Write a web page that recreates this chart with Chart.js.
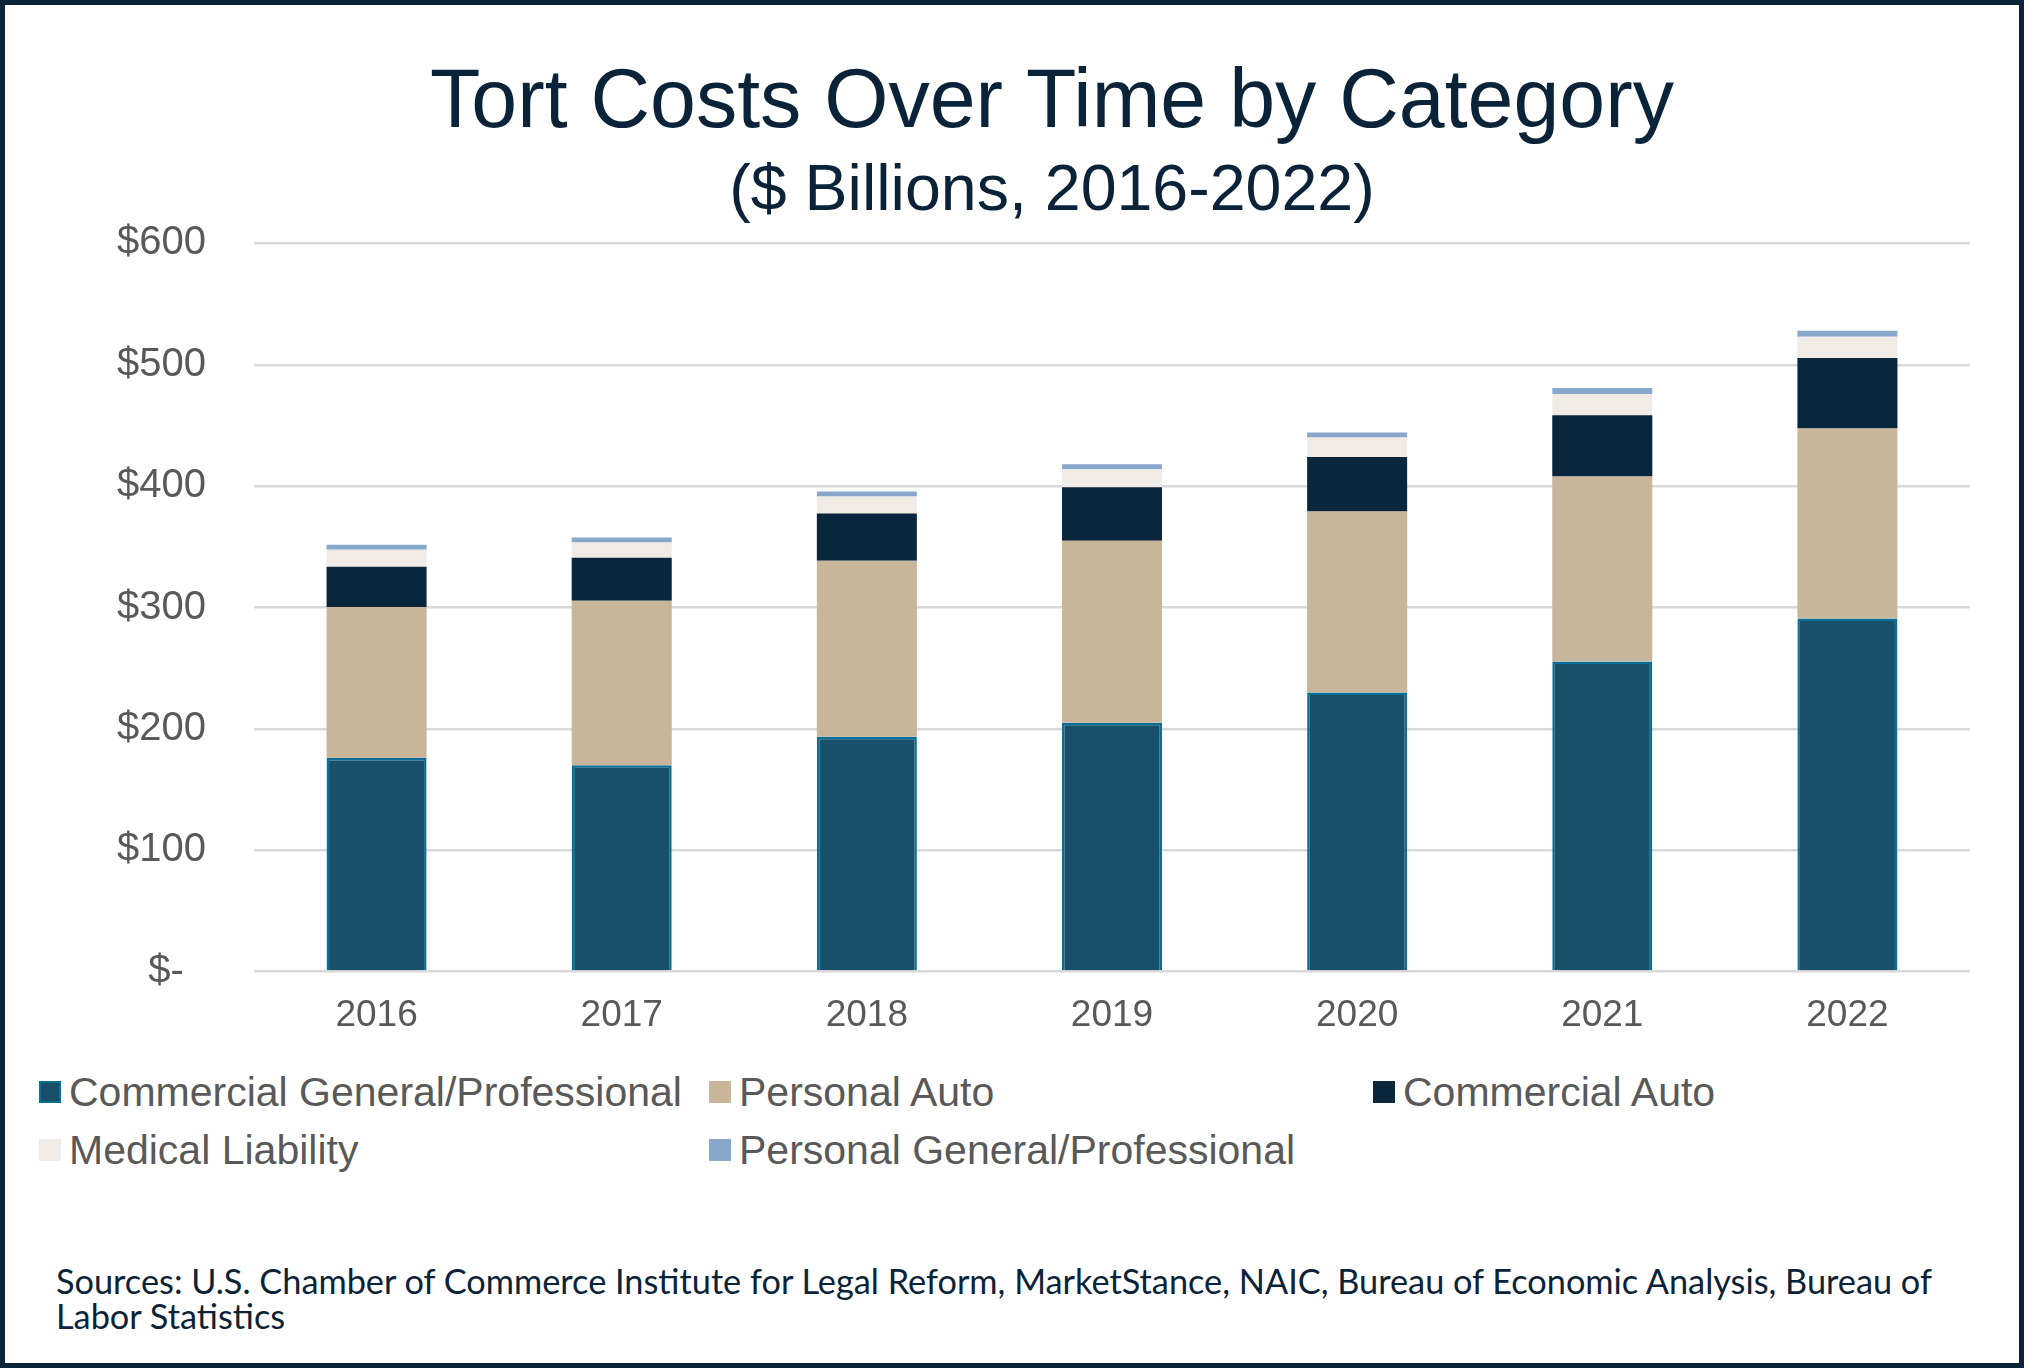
<!DOCTYPE html>
<html>
<head>
<meta charset="utf-8">
<script src="https://cdn.jsdelivr.net/npm/chart.js@4.4.1/dist/chart.umd.min.js"></script>
<style>
  html, body { margin: 0; padding: 0; background: #ffffff; }
  #page { position: relative; width: 2024px; height: 1368px; overflow: hidden; background: #fff; }
  #chartBox { position: absolute; left: 0; top: 0; width: 2024px; height: 1060px; }
  #frame { position: absolute; left: 0; top: 0; width: 2024px; height: 1368px; box-sizing: border-box; border: 5px solid #0b2339; pointer-events: none; }
  .leg { position: absolute; display: flex; align-items: center; font-family: "Liberation Sans", Arial, sans-serif; font-size: 41px; color: #595959; white-space: nowrap; height: 48px; }
  .sw { width: 22px; height: 22px; margin-right: 8px; box-sizing: border-box; flex: none; }
  #src { position: absolute; left: 56px; top: 1263px; width: 1940px; font-family: Lato, sans-serif; font-size: 34.3px; line-height: 35px; color: #0b2339; white-space: nowrap; }
</style>
</head>
<body>
<div id="page">
  <div id="chartBox"><canvas id="c"></canvas></div>
  <div id="legend"></div>
  <div id="src">Sources: U.S. Chamber of Commerce Institute for Legal Reform, MarketStance, NAIC, Bureau of Economic Analysis, Bureau of<br>Labor Statistics</div>
  <div id="frame"></div>
</div>
<script>
// ---- Data ($ billions) ----
const years = ['2016', '2017', '2018', '2019', '2020', '2021', '2022'];
const commercialGeneral = [176, 170, 193.5, 205, 230, 255.5, 291];
const personalAuto = [124.5, 135.5, 145, 150, 149, 152.5, 156.5];
const commercialAuto = [33, 35.5, 39, 44, 45, 50.5, 58];
const medicalLiability = [14, 12.5, 14, 15, 16, 17.5, 17.5];
const personalGeneral = [4.2, 4.2, 4.1, 4.1, 4.2, 4.8, 5];
const seriesNames = ['Commercial General/Professional', 'Personal Auto', 'Commercial Auto', 'Medical Liability', 'Personal General/Professional'];
const yTicks = [0, 100, 200, 300, 400, 500, 600];

const fills = ['#18506a', '#c8b59a', '#0a263c', '#f0ebe5', '#87a8cb'];
const seriesData = [commercialGeneral, personalAuto, commercialAuto, medicalLiability, personalGeneral];

const datasets = seriesData.map((d, i) => ({
  label: seriesNames[i],
  data: d,
  backgroundColor: fills[i],
  borderColor: i === 0 ? '#0a6f98' : fills[i],
  borderWidth: i === 0 ? 2.5 : 0,
  borderSkipped: 'bottom',
  categoryPercentage: 1.0,
  barPercentage: 0.408,
  yAxisID: 'y'
}));

new Chart(document.getElementById('c'), {
  type: 'bar',
  data: { labels: years, datasets },
  options: {
    responsive: true,
    maintainAspectRatio: false,
    animation: false,
    layout: { padding: { left: 100, right: 20, top: 0, bottom: 0 } },
    plugins: {
      legend: { display: false },
      tooltip: { enabled: false },
      title: {
        display: true,
        text: 'Tort Costs Over Time by Category',
        color: '#0b2339',
        font: { family: '"Liberation Sans", Arial, sans-serif', size: 82.5, weight: 'normal', lineHeight: 1.2 },
        padding: { top: 55, bottom: 0 }
      },
      subtitle: {
        display: true,
        text: '($ Billions, 2016-2022)',
        color: '#0b2339',
        font: { family: '"Liberation Sans", Arial, sans-serif', size: 64.5, weight: 'normal', lineHeight: 1.2 },
        padding: { top: 0, bottom: 12 }
      }
    },
    scales: {
      x: {
        stacked: true,
        grid: { display: false, drawTicks: false },
        border: { display: false },
        ticks: {
          color: '#595959',
          padding: 22,
          font: { family: '"Liberation Sans", Arial, sans-serif', size: 37 }
        }
      },
      y: {
        stacked: true,
        min: 0,
        max: 600,
        afterBuildTicks: (scale) => { scale.ticks = yTicks.map(v => ({ value: v })); },
        afterFit: (scale) => { scale.width = 154; },
        grid: { color: '#d9d9d9', lineWidth: 2.5, drawTicks: false },
        border: { display: false },
        ticks: {
          color: '#595959',
          padding: 48,
          font: { family: '"Liberation Sans", Arial, sans-serif', size: 40 },
          callback: (v) => v === 0 ? '$-  ' : '$' + v
        }
      },
      yRight: {
        position: 'right',
        display: true,
        grid: { display: false, drawTicks: false },
        border: { display: false },
        ticks: { display: false },
        afterFit: (scale) => { scale.width = 34; }
      }
    }
  }
});

// ---- Legend (HTML, Excel-style fixed columns) ----
const legendPos = [[39, 1068], [709, 1068], [1373, 1068], [39, 1126], [709, 1126]];
const legendEl = document.getElementById('legend');
seriesNames.forEach((name, i) => {
  const item = document.createElement('div');
  item.className = 'leg';
  item.style.left = legendPos[i][0] + 'px';
  item.style.top = legendPos[i][1] + 'px';
  const sw = document.createElement('span');
  sw.className = 'sw';
  sw.style.background = fills[i];
  if (i === 0) sw.style.border = '2px solid #0a6f98';
  item.appendChild(sw);
  const t = document.createElement('span');
  t.textContent = name;
  item.appendChild(t);
  legendEl.appendChild(item);
});
</script>
</body>
</html>
